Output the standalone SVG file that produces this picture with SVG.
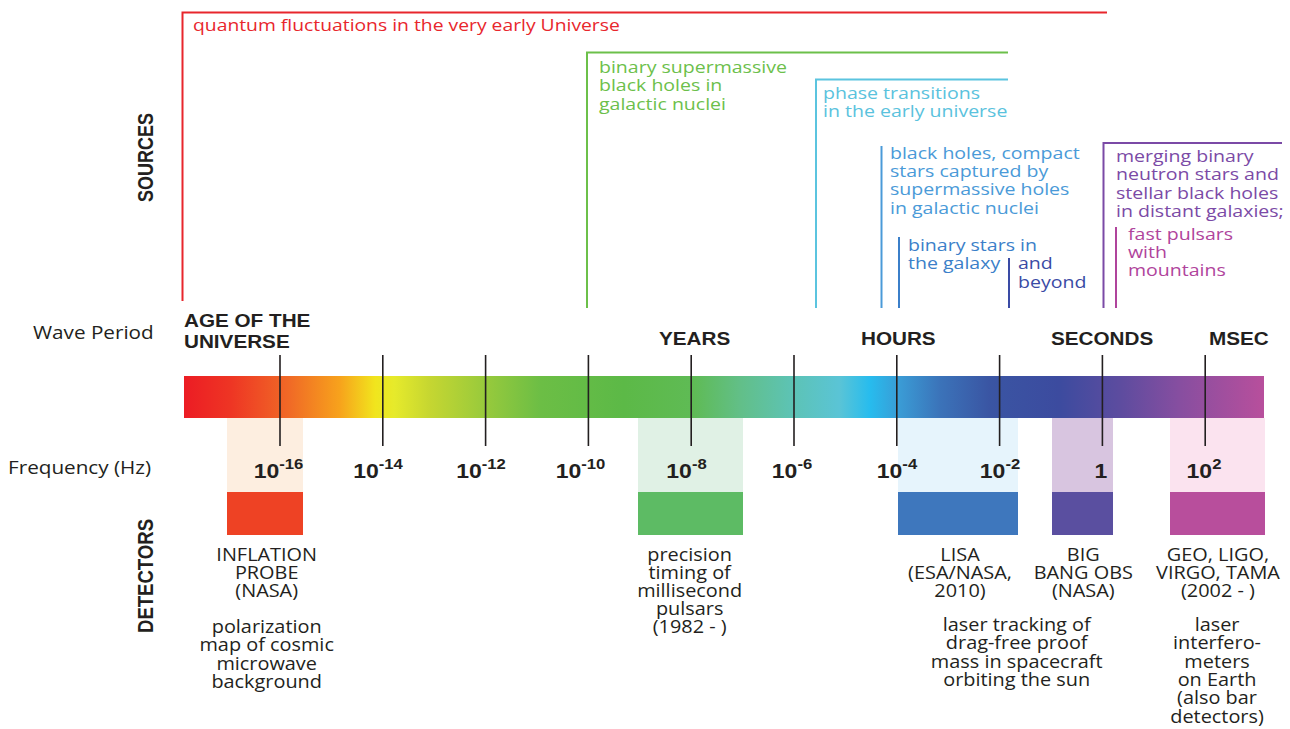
<svg xmlns="http://www.w3.org/2000/svg" width="1290" height="729" viewBox="0 0 1290 729">
<defs>
<linearGradient id="spec" x1="184" y1="0" x2="1264" y2="0" gradientUnits="userSpaceOnUse">
<stop offset="0" stop-color="#ec1c24"/>
<stop offset="0.043" stop-color="#ee3524"/>
<stop offset="0.098" stop-color="#f06a26"/>
<stop offset="0.144" stop-color="#f7a21c"/>
<stop offset="0.177" stop-color="#f1e51d"/>
<stop offset="0.195" stop-color="#e6ea2b"/>
<stop offset="0.228" stop-color="#c5d631"/>
<stop offset="0.274" stop-color="#9ccb3b"/>
<stop offset="0.33" stop-color="#6cbe45"/>
<stop offset="0.407" stop-color="#5cb947"/>
<stop offset="0.472" stop-color="#5fbb55"/>
<stop offset="0.515" stop-color="#62bf88"/>
<stop offset="0.561" stop-color="#5dc3b3"/>
<stop offset="0.607" stop-color="#5ac4d6"/>
<stop offset="0.635" stop-color="#27bcee"/>
<stop offset="0.663" stop-color="#3a9bd5"/>
<stop offset="0.7" stop-color="#3b73b9"/>
<stop offset="0.746" stop-color="#3a55a3"/>
<stop offset="0.81" stop-color="#3c4b9f"/>
<stop offset="0.867" stop-color="#5d4c9f"/>
<stop offset="0.922" stop-color="#874ea0"/>
<stop offset="1" stop-color="#b84f9c"/>
</linearGradient>
</defs>
<style>
.src { font-family: "Open Sans", "Liberation Sans", sans-serif; font-size: 17px; }
.body { font-family: "Open Sans", "Liberation Sans", sans-serif; font-size: 17.3px; fill: #231f20; text-anchor: middle; }
.axis { font-family: "Open Sans", "Liberation Sans", sans-serif; font-size: 18px; fill: #231f20; }
.lbl { font-family: "Liberation Sans", Arial, sans-serif; font-weight: bold; font-size: 18px; fill: #231f20; }
.num { font-family: "Liberation Sans", Arial, sans-serif; font-weight: bold; font-size: 20px; fill: #231f20; text-anchor: middle; }
.sup { font-size: 14.5px; }
.side { font-family: "Liberation Sans", Arial, sans-serif; font-weight: bold; font-size: 22px; fill: #231f20; text-anchor: middle; }
.br { fill: none; stroke-width: 2; }
.tick { stroke: #231f20; stroke-width: 1.6; }
</style>
<rect width="1290" height="729" fill="#ffffff"/>

<g id="side-labels">
<text class="side" transform="translate(153,157.5) rotate(-90)" textLength="89" lengthAdjust="spacingAndGlyphs">SOURCES</text>
<text class="side" transform="translate(153,576) rotate(-90)" textLength="114" lengthAdjust="spacingAndGlyphs">DETECTORS</text>
<g transform="scale(1.15 1)">
<text class="axis" x="28.7" y="339">Wave Period</text>
<text class="axis" x="6.96" y="474">Frequency (Hz)</text>
</g>
</g>

<g id="connectors">
<polyline class="br" stroke="#e8262c" points="182.5,301 182.5,12.5 1107,12.5"/>
<polyline class="br" stroke="#6cc04a" points="587,308 587,52.5 1008,52.5"/>
<polyline class="br" stroke="#5bc4df" points="816,308 816,79.5 1008,79.5"/>
<line class="br" stroke="#4a9ad8" x1="881.5" y1="146" x2="881.5" y2="308"/>
<line class="br" stroke="#3b7fc9" x1="899" y1="237" x2="899" y2="308"/>
<line class="br" stroke="#3a4ba5" x1="1009" y1="258" x2="1009" y2="308"/>
<polyline class="br" stroke="#7b4aa6" points="1103.5,308 1103.5,143 1282,143"/>
<line class="br" stroke="#b0449c" x1="1116" y1="227" x2="1116" y2="308"/>
</g>

<g id="src-quantum" transform="scale(1.15 1)">
<text class="src" fill="#e8262c" x="167.83" y="31" style="font-size:16.8px">quantum fluctuations in the very early Universe</text>
</g>
<g id="src-smbh" transform="scale(1.15 1)">
<text class="src" fill="#6cbf4b" x="520.87" y="73">binary supermassive<tspan x="520.87" dy="18.5">black holes in</tspan><tspan x="520.87" dy="18.5">galactic nuclei</tspan></text>
</g>
<g id="src-phase" transform="scale(1.15 1)">
<text class="src" fill="#5ac2dd" x="715.65" y="99">phase transitions<tspan x="715.65" dy="18">in the early universe</tspan></text>
</g>
<g id="src-compact" transform="scale(1.15 1)">
<text class="src" fill="#4a9ad8" x="773.91" y="159">black holes, compact<tspan x="773.91" dy="18.2">stars captured by</tspan><tspan x="773.91" dy="18.2">supermassive holes</tspan><tspan x="773.91" dy="18.2">in galactic nuclei</tspan></text>
</g>
<g id="src-binary" transform="scale(1.15 1)">
<text class="src" fill="#3b7fc9" x="789.57" y="251">binary stars in<tspan x="789.57" dy="18">the galaxy</tspan></text>
</g>
<g id="src-beyond" transform="scale(1.15 1)">
<text class="src" fill="#3a4ba5" x="885.22" y="269">and<tspan x="885.22" dy="19">beyond</tspan></text>
</g>
<g id="src-merging" transform="scale(1.15 1)">
<text class="src" fill="#7b4aa6" x="970.43" y="162">merging binary<tspan x="970.43" dy="18.4">neutron stars and</tspan><tspan x="970.43" dy="18.4">stellar black holes</tspan><tspan x="970.43" dy="18.4">in distant galaxies;</tspan></text>
</g>
<g id="src-pulsars" transform="scale(1.15 1)">
<text class="src" fill="#b0449c" x="980.87" y="240">fast pulsars<tspan x="980.87" dy="18">with</tspan><tspan x="980.87" dy="18">mountains</tspan></text>
</g>

<g id="period-labels" transform="scale(1.15 1)">
<text class="lbl" x="160" y="327">AGE OF THE<tspan x="160" dy="21">UNIVERSE</tspan></text>
<text class="lbl" x="573.04" y="345">YEARS</text>
<text class="lbl" x="748.7" y="345">HOURS</text>
<text class="lbl" x="913.9" y="345">SECONDS</text>
<text class="lbl" x="1051.3" y="345">MSEC</text>
</g>

<g id="det-inflation-band">
<rect x="227" y="418" width="76" height="74" fill="#fdeee0"/>
<rect x="227" y="492" width="76" height="43" fill="#ee4224"/>
</g>
<g id="det-pulsar-band">
<rect x="638" y="418" width="105" height="74" fill="#e0f1e5"/>
<rect x="638" y="492" width="105" height="43" fill="#5dbb64"/>
</g>
<g id="det-lisa-band">
<rect x="898" y="418" width="120" height="74" fill="#e6f4fc"/>
<rect x="898" y="492" width="120" height="43" fill="#3e77bd"/>
</g>
<g id="det-bbo-band">
<rect x="1052" y="418" width="61" height="74" fill="#d8c5e0"/>
<rect x="1052" y="492" width="61" height="43" fill="#5a4fa0"/>
</g>
<g id="det-geo-band">
<rect x="1170" y="418" width="95" height="74" fill="#fbe3ef"/>
<rect x="1170" y="492" width="95" height="43" fill="#b84e9c"/>
</g>

<g id="spectrum">
<rect x="184" y="376" width="1080" height="42" fill="url(#spec)"/>
<line class="tick" x1="280" y1="355" x2="280" y2="446"/>
<line class="tick" x1="382.8" y1="355" x2="382.8" y2="446"/>
<line class="tick" x1="485.6" y1="355" x2="485.6" y2="446"/>
<line class="tick" x1="588.4" y1="355" x2="588.4" y2="446"/>
<line class="tick" x1="691.2" y1="355" x2="691.2" y2="446"/>
<line class="tick" x1="794" y1="355" x2="794" y2="446"/>
<line class="tick" x1="896.8" y1="355" x2="896.8" y2="446"/>
<line class="tick" x1="999.6" y1="355" x2="999.6" y2="446"/>
<line class="tick" x1="1102.4" y1="355" x2="1102.4" y2="446"/>
<line class="tick" x1="1205.2" y1="355" x2="1205.2" y2="446"/>
</g>

<g id="frequency-labels" transform="scale(1.15 1)">
<text class="num" x="242.17" y="478">10<tspan class="sup" dy="-9">-16</tspan></text>
<text class="num" x="328.7" y="478">10<tspan class="sup" dy="-9">-14</tspan></text>
<text class="num" x="418.26" y="478">10<tspan class="sup" dy="-9">-12</tspan></text>
<text class="num" x="504.78" y="478">10<tspan class="sup" dy="-9">-10</tspan></text>
<text class="num" x="596.96" y="478">10<tspan class="sup" dy="-9">-8</tspan></text>
<text class="num" x="688.7" y="478">10<tspan class="sup" dy="-9">-6</tspan></text>
<text class="num" x="780" y="478">10<tspan class="sup" dy="-9">-4</tspan></text>
<text class="num" x="869.57" y="478">10<tspan class="sup" dy="-9">-2</tspan></text>
<text class="num" x="957.39" y="478">1</text>
<text class="num" x="1046.96" y="478">10<tspan class="sup" dy="-9">2</tspan></text>
</g>

<g id="det-inflation" transform="scale(1.15 1)">
<text class="body" x="231.9" y="561">INFLATION<tspan x="231.9" dy="18">PROBE</tspan><tspan x="231.9" dy="18">(NASA)</tspan></text>
<text class="body" x="231.9" y="633">polarization<tspan x="231.9" dy="18.5">map of cosmic</tspan><tspan x="231.9" dy="18.5">microwave</tspan><tspan x="231.9" dy="18.5">background</tspan></text>
</g>
<g id="det-pulsar" transform="scale(1.15 1)">
<text class="body" x="599.7" y="561.5">precision<tspan x="599.7" dy="18">timing of</tspan><tspan x="599.7" dy="18">millisecond</tspan><tspan x="599.7" dy="18">pulsars</tspan><tspan x="599.7" dy="18">(1982 - )</tspan></text>
</g>
<g id="det-lisa" transform="scale(1.15 1)">
<text class="body" x="834.8" y="561">LISA<tspan x="834.8" dy="18">(ESA/NASA,</tspan><tspan x="834.8" dy="18.5">2010)</tspan></text>
<text class="body" x="884.1" y="631.5">laser tracking of<tspan x="884.1" dy="18">drag-free proof</tspan><tspan x="884.1" dy="18.3">mass in spacecraft</tspan><tspan x="884.1" dy="18.3">orbiting the sun</tspan></text>
</g>
<g id="det-bbo" transform="scale(1.15 1)">
<text class="body" x="942" y="561">BIG<tspan x="942" dy="18">BANG OBS</tspan><tspan x="942" dy="18.5">(NASA)</tspan></text>
</g>
<g id="det-geo" transform="scale(1.15 1)">
<text class="body" x="1059.1" y="561">GEO, LIGO,<tspan x="1059.1" dy="18">VIRGO, TAMA</tspan><tspan x="1059.1" dy="18.5">(2002 - )</tspan></text>
<text class="body" x="1058.3" y="631.5">laser<tspan x="1058.3" dy="18">interfero-</tspan><tspan x="1058.3" dy="18.3">meters</tspan><tspan x="1058.3" dy="18.3">on Earth</tspan><tspan x="1058.3" dy="18.2">(also bar</tspan><tspan x="1058.3" dy="18.4">detectors)</tspan></text>
</g>
</svg>
